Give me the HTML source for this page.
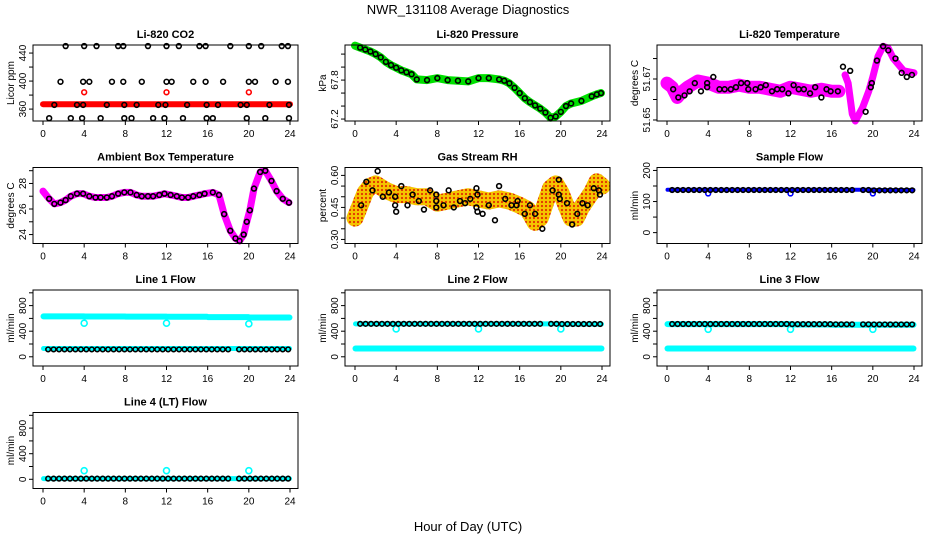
<!DOCTYPE html>
<html><head><meta charset="utf-8"><style>
html,body{margin:0;padding:0;background:#fff;}
svg{display:block;font-family:"Liberation Sans",sans-serif;}
</style></head><body>
<svg id="chart" width="936" height="540" viewBox="0 0 936 540" xmlns="http://www.w3.org/2000/svg">
<defs>
<pattern id="rhpat" width="4" height="4" patternUnits="userSpaceOnUse">
<rect width="4" height="4" fill="#f5c400"/><circle cx="2" cy="2" r="1.1" fill="#e23000"/>
</pattern>
</defs>
<text x="468" y="14" text-anchor="middle" font-size="13">NWR_131108  Average Diagnostics</text>
<text x="468" y="531" text-anchor="middle" font-size="13">Hour of Day (UTC)</text>
</svg>
<script>
// ---- data ----
const xTicks = [0,4,8,12,16,20,24];
// CO2
const co2RedHours = [0,24];
const co2RedVals = [367,367];
const co2RedPtHours = [4,12,20];
const co2RedPtVals = [384,384,384];
const co2BlackHours = [2.2,4,5.2,7.3,7.8,10.2,12,13.2,15.2,15.8,18.2,20,21.2,23.2,23.8, 1.7,3.9,4.5,6.7,7.8,9.6,12,12.5,14.6,15.8,17.5,20,20.6,22.6,23.8, 1.1,3.3,3.9,6.2,7.9,9.1,11.2,11.9,14,15.9,17,19.2,19.8,22,23.9, 0.6,2.7,3.8,5.6,7.9,8.6,10.7,11.8,13.6,15.9,16.5,19.8,21.6,23.9];
const co2BlackVals = [450,450,450,450,450,450,450,450,450,450,450,450,450,450,450, 399,399,399,399,399,399,399,399,399,399,399,399,399,399,399, 366,366,366,366,366,366,366,366,366,366,366,366,366,366,366, 347,347,347,347,347,347,347,347,347,347,347,347,347,347];
// Pressure
const presHours = [0,0.5,1,1.5,2,2.5,3,3.5,4,4.5,5,5.5,6,7,8,9,10,11,12,13,14,14.5,15,15.5,16,16.5,17,17.5,18,18.5,19,19.5,20,20.5,21,22,23,23.5,23.9];
const presVals = [68.33,68.3,68.27,68.24,68.2,68.15,68.08,68.03,67.99,67.95,67.92,67.89,67.81,67.8,67.83,67.8,67.79,67.78,67.83,67.83,67.81,67.79,67.75,67.68,67.6,67.52,67.46,67.41,67.36,67.3,67.22,67.24,67.31,67.4,67.44,67.48,67.55,67.58,67.6];
// Temperature
const tempHours = [0,0.5,1,1.5,2,3,4,5,6,7,8,9,10,11,12,13,14,15,16,16.7];
const tempVals = [51.668,51.666,51.661,51.664,51.666,51.669,51.668,51.666,51.666,51.667,51.666,51.666,51.665,51.664,51.666,51.665,51.664,51.665,51.664,51.664];
const temp2Hours = [17.3,17.6,18,18.3,19,19.6,20,20.5,21,21.5,22,23,24];
const temp2Vals = [51.672,51.668,51.653,51.6495,51.656,51.664,51.671,51.681,51.686,51.685,51.680,51.674,51.673];
const tempPtHours = [0.6,1.1,1.7,2.2,2.7,3.3,3.9,3.9,4.5,5.1,5.6,6.2,6.7,7.2,7.8,7.9,8.6,9.1,9.6,10.2,10.7,11.2,11.8,12.3,12.8,13.3,13.9,14.4,15,15.5,15.9,16.6,17.1,17.8,19.3,19.8,19.9,20.4,21.0,21.5,22.2,22.8,23.3,23.8];
const tempPtVals = [51.665,51.661,51.662,51.664,51.668,51.664,51.668,51.666,51.671,51.665,51.665,51.665,51.666,51.668,51.668,51.665,51.665,51.666,51.667,51.664,51.665,51.665,51.663,51.667,51.665,51.665,51.663,51.666,51.661,51.665,51.664,51.664,51.676,51.674,51.654,51.666,51.668,51.679,51.686,51.684,51.680,51.673,51.671,51.672];
// Ambient
const ambHours = [0,0.6,1.1,1.7,2.2,2.7,3.3,3.9,4.5,5.1,5.6,6.2,6.7,7.3,7.9,8.5,9.1,9.6,10.2,10.7,11.3,11.8,12.4,13,13.5,14.1,14.6,15.2,15.7,16.5,17.1,17.6,18.2,18.7,19.1,19.5,19.8,20.1,20.5,21.1,21.6,22.2,22.7,23.3,23.9];
const ambVals = [27.4,26.8,26.4,26.5,26.7,27.0,27.2,27.2,27.0,26.9,26.9,26.9,27.0,27.2,27.3,27.3,27.1,27.0,27.0,27.0,27.1,27.2,27.1,27.0,26.9,26.9,27.0,27.1,27.2,27.3,27.1,25.6,24.3,23.7,23.5,24.0,25.0,25.9,27.6,28.9,29.0,28.2,27.4,26.8,26.5];
// RH
const rhHours = [0,0.5,1,1.5,2,3,4,5,6,7,8,9,10,11,12,13,14,15,16,16.8,17.5,18,18.5,19,19.5,20,20.5,21,21.5,22,23,23.5,24];
const rhVals = [0.40,0.46,0.52,0.55,0.56,0.53,0.51,0.51,0.50,0.50,0.47,0.48,0.49,0.50,0.49,0.48,0.49,0.48,0.46,0.44,0.38,0.40,0.47,0.54,0.56,0.52,0.46,0.40,0.40,0.45,0.52,0.57,0.55];
const rhPtHours = [0.6,1.1,1.7,2.2,2.7,3.3,3.9,3.9,4.0,4.5,5.1,5.6,6.2,6.7,7.3,7.9,7.9,7.9,8.6,9.1,9.6,10.2,10.7,11.2,11.8,11.8,11.9,11.9,12.4,13,13.6,14,14.6,15.2,15.7,15.8,16.5,17,17.5,18.2,19.2,19.8,19.8,19.9,20.6,21.1,21.6,22.1,22.6,23.2,23.7,23.8];
const rhPtVals = [0.46,0.57,0.53,0.62,0.50,0.52,0.50,0.46,0.43,0.55,0.46,0.51,0.48,0.44,0.53,0.48,0.51,0.45,0.46,0.53,0.45,0.48,0.47,0.49,0.54,0.45,0.43,0.51,0.42,0.46,0.39,0.55,0.49,0.46,0.46,0.48,0.42,0.46,0.42,0.35,0.53,0.51,0.58,0.49,0.47,0.37,0.42,0.47,0.46,0.54,0.53,0.51];
// Flows: values per 4-hour bucket [0-4,4-8,8-12,12-16,16-20,20-24]
const sampleBand = [138,138,138,138,138,137];
const sampleBlack = [137,137,137,137,137,136];
const sampleDips = [126,126,126];
const line1Cyan = [632,630,628,625,620,615];
const line1Low = [130,130,130,130,130,130];
const line1Black = [115,115,115,115,115,115];
const line1Dips = [525,525,515];
const line2Cyan = [130,130,130,130,130,130];
const line2High = [515,515,515,515,515,510];
const line2Black = [515,515,515,515,515,512];
const line2Dips = [435,435,435];
const line3Cyan = [130,130,130,130,130,130];
const line3High = [510,510,510,505,500,500];
const line3Black = [512,512,512,510,508,506];
const line3Dips = [430,430,430];
const line4Cyan = [10,10,10,10,10,10];
const line4Black = [10,10,10,10,10,10];
const line4Dips = [135,135,135];
const dipHours = [4,12,20];
const bucketEdges = [0,4,8,12,16,20,24];

// ---- drawing ----
const NS = "http://www.w3.org/2000/svg";
const svg = document.getElementById('chart');
function mk(tag, attrs, parent){ const e=document.createElementNS(NS,tag); for(const k in attrs) e.setAttribute(k,attrs[k]); (parent||svg).appendChild(e); return e; }

function panel(col,row,title,ylab,ylim,ticks,labels){
  const left=33+312*col, top=45+122.5*row, w=265, h=76;
  const g=mk('g',{});
  
  
  const xs=hr=>left+10+hr*247/24;
  const ys=v=>top+h-(v-ylim[0])/(ylim[1]-ylim[0])*h;
  const t=mk('text',{x:left+w/2,y:top-7,'text-anchor':'middle','font-size':'11','font-weight':'bold'},g); t.textContent=title;
  
  
  const plot=mk('g',{},g);
  
  
  const frame=mk('rect',{x:left,y:top,width:w,height:h,fill:'none',stroke:'#000','stroke-width':1},g);
  
  
  xTicks.forEach(v=>{
    mk('line',{x1:xs(v),x2:xs(v),y1:top+h,y2:top+h+4,stroke:'#000'},g);
    const l=mk('text',{x:xs(v),y:top+h+16,'text-anchor':'middle','font-size':'10'},g); l.textContent=v;
    
    
  });
  ticks.forEach(v=>{
    mk('line',{x1:left,x2:left-4,y1:ys(v),y2:ys(v),stroke:'#000'},g);
  });
  labels.forEach(v=>{
    const l=mk('text',{x:0,y:0,'text-anchor':'middle','font-size':'10',transform:`translate(${left-7},${ys(v)}) rotate(-90)`},g); l.textContent=v;
    
    
  });
  const yl=mk('text',{x:0,y:0,'text-anchor':'middle','font-size':'10',transform:`translate(${left-19},${top+h/2}) rotate(-90)`},g); yl.textContent=ylab;
  
  
  return {xs,ys,plot};
}
function band(p,hours,vals,color,width,name){
  const pts=hours.map((hh,i)=>p.xs(hh)+','+p.ys(vals[i])).join(' ');
  const e=mk('polyline',{points:pts,fill:'none',stroke:color,'stroke-width':width,'stroke-linejoin':'round','stroke-linecap':'round'},p.plot);
  
  
}
function pts(p,hours,vals,color,name,r){
  hours.forEach((hh,i)=>{
    const c=mk('circle',{cx:p.xs(hh),cy:p.ys(vals[i]),r:r||2.4,fill:'none',stroke:color,'stroke-width':1.6},p.plot);
    
    
  });
}
function bucketLine(p,vals,color,width,name){
  const hrs=[],vv=[];
  vals.forEach((v,i)=>{hrs.push(bucketEdges[i]+0.05,bucketEdges[i+1]-0.05);vv.push(v,v);});
  band(p,hrs,vv,color,width,name);
}
const flowHours=[];
for(let hh=0.5;hh<=24;hh+=0.53){ if(hh<18.3||hh>19.0) flowHours.push(hh); }
function bucketPts(p,vals,color,name){
  const vv=flowHours.map(hh=>vals[Math.min(5,Math.floor(hh/4))]);
  pts(p,flowHours,vv,color,name,2.3);
}

// CO2
let p=panel(0,0,'Li-820 CO2','Licor ppm',[343,451.5],[360,380,400,420,440],[360,400,440]);
band(p,co2RedHours,co2RedVals,'#ff0000',6,'co2-red-band');
pts(p,co2RedPtHours,co2RedPtVals,'#ff0000','co2-red-point');
pts(p,co2BlackHours,co2BlackVals,'#000','co2-black-point');
// Pressure
p=panel(1,0,'Li-820 Pressure','kPa',[67.17,68.34],[67.2,67.4,67.6,67.8,68.0,68.2],[67.2,67.8]);
band(p,presHours,presVals,'#00e000',8,'pressure-green-band');
pts(p,presHours.slice(1),presVals.slice(1),'#000','pressure-black-point');
// Temperature
p=panel(2,0,'Li-820 Temperature','degrees C',[51.6495,51.6866],[51.65,51.66,51.67,51.68],['51.65','51.67']);
band(p,tempHours,tempVals,'#ff00ff',13,'temperature-magenta-band');
band(p,temp2Hours,temp2Vals,'#ff00ff',7,'temperature-magenta-band-2');
pts(p,tempPtHours,tempPtVals,'#000','temperature-black-point');
// Ambient
p=panel(0,1,'Ambient Box Temperature','degrees C',[23.3,29.25],[24,25,26,27,28,29],[24,26,28]);
band(p,ambHours,ambVals,'#ff00ff',7,'ambient-magenta-band');
pts(p,ambHours.slice(1),ambVals.slice(1),'#000','ambient-black-point');
// RH
p=panel(1,1,'Gas Stream RH','percent',[0.281,0.637],[0.30,0.35,0.40,0.45,0.50,0.55,0.60],['0.30','0.45','0.60']);
band(p,rhHours,rhVals,'url(#rhpat)',17,'rh-orange-band');
pts(p,rhPtHours,rhPtVals,'#000','rh-black-point');
// Sample flow
p=panel(2,1,'Sample Flow','ml/min',[-35,209.5],[0,50,100,150,200],[0,100,200]);
bucketLine(p,sampleBand,'#0000ff',4,'sample-blue-band');
pts(p,dipHours,sampleDips,'#0000ff','sample-blue-dip');
bucketPts(p,sampleBlack,'#000','sample-black-point');
// Line 1
p=panel(0,2,'Line 1 Flow','ml/min',[-144,1044],[0,200,400,600,800,1000],[0,400,800]);
bucketLine(p,line1Cyan,'#00ffff',6,'line1-cyan-band');
bucketLine(p,line1Low,'#00ffff',5,'line1-cyan-low');
pts(p,dipHours,line1Dips,'#00ffff','line1-cyan-dip',3);
bucketPts(p,line1Black,'#000','line1-black-point');
// Line 2
p=panel(1,2,'Line 2 Flow','ml/min',[-144,1044],[0,200,400,600,800,1000],[0,400,800]);
bucketLine(p,line2Cyan,'#00ffff',6,'line2-cyan-band');
bucketLine(p,line2High,'#00ffff',5,'line2-cyan-high');
pts(p,dipHours,line2Dips,'#00ffff','line2-cyan-dip',3);
bucketPts(p,line2Black,'#000','line2-black-point');
// Line 3
p=panel(2,2,'Line 3 Flow','ml/min',[-144,1044],[0,200,400,600,800,1000],[0,400,800]);
bucketLine(p,line3Cyan,'#00ffff',6,'line3-cyan-band');
bucketLine(p,line3High,'#00ffff',6,'line3-cyan-high');
pts(p,dipHours,line3Dips,'#00ffff','line3-cyan-dip',3);
bucketPts(p,line3Black,'#000','line3-black-point');
// Line 4
p=panel(0,3,'Line 4 (LT) Flow','ml/min',[-144,1044],[0,200,400,600,800,1000],[0,400,800]);
bucketLine(p,line4Cyan,'#00ffff',5,'line4-cyan-band');
pts(p,dipHours,line4Dips,'#00ffff','line4-cyan-dip',3);
bucketPts(p,line4Black,'#000','line4-black-point');
</script>
</body></html>
